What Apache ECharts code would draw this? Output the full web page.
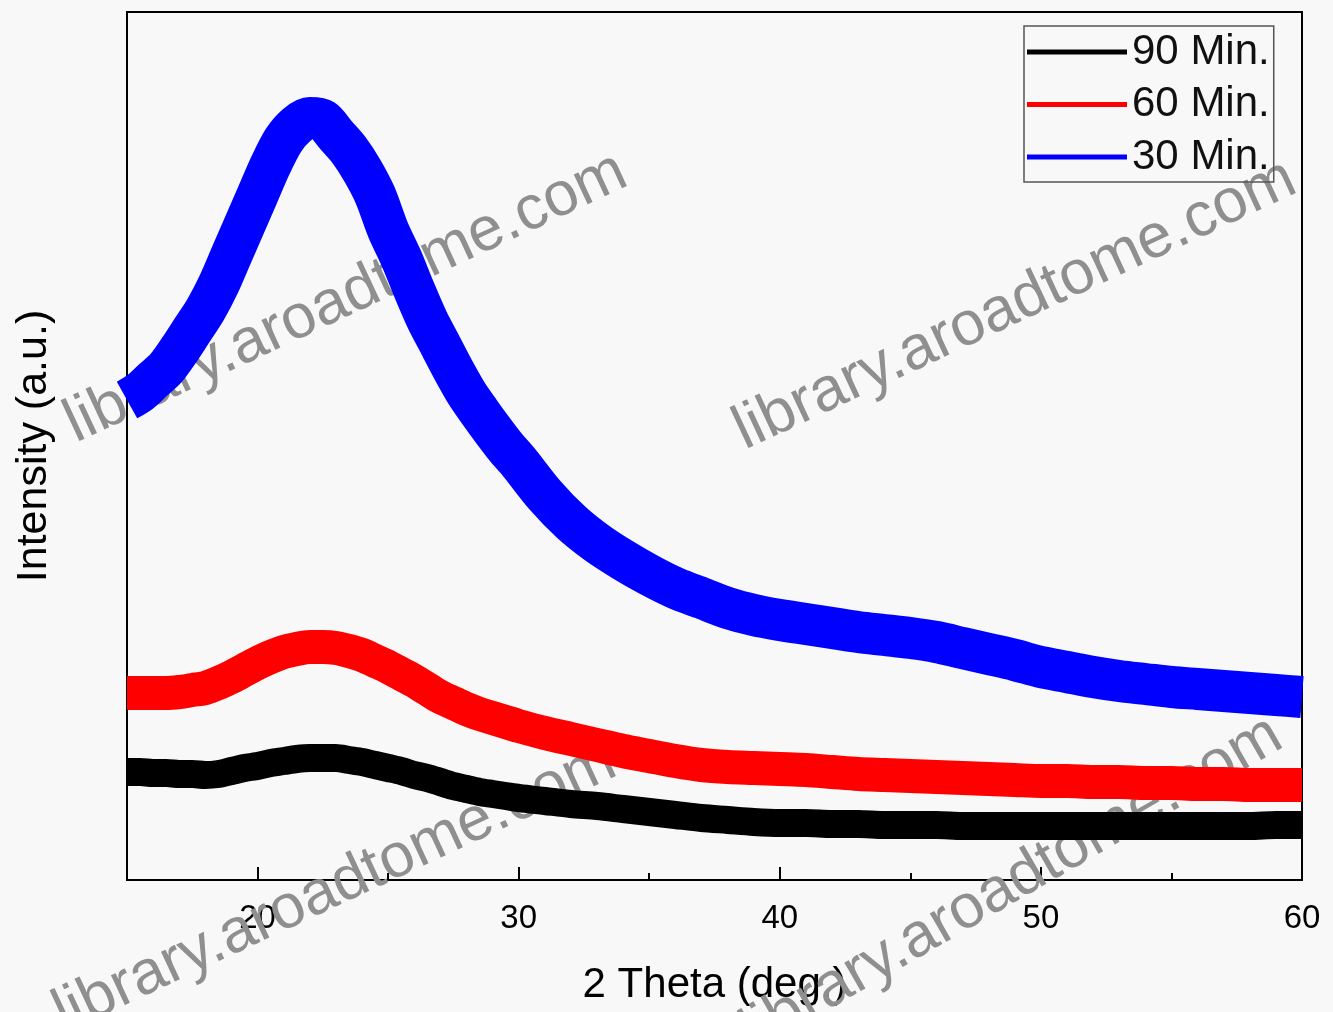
<!DOCTYPE html>
<html>
<head>
<meta charset="utf-8">
<script src="https://cdn.jsdelivr.net/npm/echarts@6/dist/echarts.min.js"></script>
<style>
html,body{margin:0;padding:0;background:#f8f8f8;}
#chart{width:1333px;height:1012px;}
</style>
</head>
<body>
<div id="chart"></div>
<script>
// 2 Theta (deg.) sample positions
const theta = [15,15.5,16,16.5,17,17.5,18,18.5,19,19.5,20,20.5,21,21.5,22,22.5,23,23.5,24,24.5,25,25.5,26,26.5,27,27.5,28,28.5,29,29.5,30,
  31,32,33,34,35,36,37,38,39,40,41,42,43,44,45,46,47,48,49,50,51,52,53,54,55,56,57,58,59,60];
// Intensity (a.u.)
const min30 = [480,488,500,512,530,550,570,595,625,655,685,715,740,755,762,760,745,730,710,685,650,622,590,560,535,510,487,468,450,433,418,
  385,358,337,320,305,292,282,272,265,260,256,252,248,245,242,238,232,226,220,213,208,203,199,196,193,191,189,187,185,183];
const min60 = [187,187,187,187,188,190,192,197,203,210,217,223,228,231,233,233,232,229,225,219,213,206,199,191,183,177,171,166,162,158,154,
  147,141,135,129,124,119,115,113,112,111,110,108,106,105,104,103,102,101,100,99,99,98,98,97,97,96,96,95,95,95];
const min90 = [108,108,107,107,106,106,105,106,109,112,114,117,119,121,122,122,122,120,118,115,112,109,105,102,98,94,91,88,86,84,82,
  79,76,74,71,68,65,62,60,58,57,57,56,56,55,55,55,54,54,54,54,54,54,54,54,54,54,54,54,55,55];
const seriesNames = ['90 Min.', '60 Min.', '30 Min.'];
const majorTicks = [20,30,40,50,60];
const minorTicks = [25,35,45,55];
const xTitle = '2 Theta (deg.)';
const yTitle = 'Intensity (a.u.)';
const watermarkText = 'library.aroadtome.com';

const FONT = '"Liberation Sans", Arial, sans-serif';
const pairs = arr => theta.map((t, i) => [t, arr[i]]);

const watermarkLayout = [
  {x: 346, y: 298, rot: 25},
  {x: 1015, y: 305, rot: 25},
  {x: 335, y: 888, rot: 25},
  {x: 1012, y: 884, rot: 30}
];

const chart = echarts.init(document.getElementById('chart'), null, {renderer: 'canvas'});
chart.setOption({
  backgroundColor: '#f8f8f8',
  animation: false,
  textStyle: {fontFamily: FONT},
  grid: {left: 127, right: 31, top: 12, bottom: 132, show: true, borderColor: '#000', borderWidth: 2, containLabel: false},
  legend: {
    data: seriesNames,
    orient: 'vertical',
    left: 1024, top: 26,
    icon: 'rect',
    itemWidth: 100, itemHeight: 5,
    itemGap: 10.5,
    padding: [5, 4, 4, 3],
    borderColor: '#555', borderWidth: 1.5,
    textStyle: {fontSize: 42, color: '#111', fontFamily: FONT, lineHeight: 42}
  },
  xAxis: [{
    type: 'value', min: 15, max: 60, interval: 5, position: 'bottom',
    axisLine: {show: true, onZero: false, lineStyle: {color: '#000', width: 2}},
    axisTick: {show: true, inside: true, length: 13, customValues: majorTicks, lineStyle: {color: '#000', width: 2}},
    axisLabel: {show: true, customValues: majorTicks, fontSize: 33, color: '#000', margin: 22, fontFamily: FONT},
    splitLine: {show: false},
    name: xTitle, nameLocation: 'middle', nameGap: 84,
    nameTextStyle: {fontSize: 42, color: '#000', fontFamily: FONT}
  }, {
    type: 'value', min: 15, max: 60, interval: 5, position: 'bottom',
    axisLine: {show: false},
    axisTick: {show: true, inside: true, length: 7, customValues: minorTicks, lineStyle: {color: '#000', width: 2}},
    axisLabel: {show: false},
    splitLine: {show: false}
  }],
  yAxis: {
    type: 'value', min: 0, max: 868,
    axisLine: {show: true, lineStyle: {color: '#000', width: 2}},
    axisTick: {show: false}, axisLabel: {show: false}, splitLine: {show: false},
    name: yTitle, nameLocation: 'middle', nameGap: 71, nameRotate: 90,
    nameTextStyle: {fontSize: 43, color: '#000', fontFamily: FONT}
  },
  graphic: watermarkLayout.map(w => ({
    type: 'text', x: w.x, y: w.y, rotation: w.rot * Math.PI / 180, z: 1,
    style: {text: watermarkText, font: '62px "Liberation Sans", Arial, sans-serif', fill: '#8f8f8f', align: 'center', verticalAlign: 'middle'}
  })),
  series: [
    {name: seriesNames[0], type: 'line', data: pairs(min90), showSymbol: false, smooth: 0.3, z: 3,
      itemStyle: {color: '#000000'}, lineStyle: {color: '#000000', width: 28}},
    {name: seriesNames[1], type: 'line', data: pairs(min60), showSymbol: false, smooth: 0.3, z: 3,
      itemStyle: {color: '#ff0000'}, lineStyle: {color: '#ff0000', width: 34}},
    {name: seriesNames[2], type: 'line', data: pairs(min30), showSymbol: false, smooth: 0.3, z: 3,
      itemStyle: {color: '#0000ff'}, lineStyle: {color: '#0000ff', width: 42}}
  ]
});
</script>
</body>
</html>
